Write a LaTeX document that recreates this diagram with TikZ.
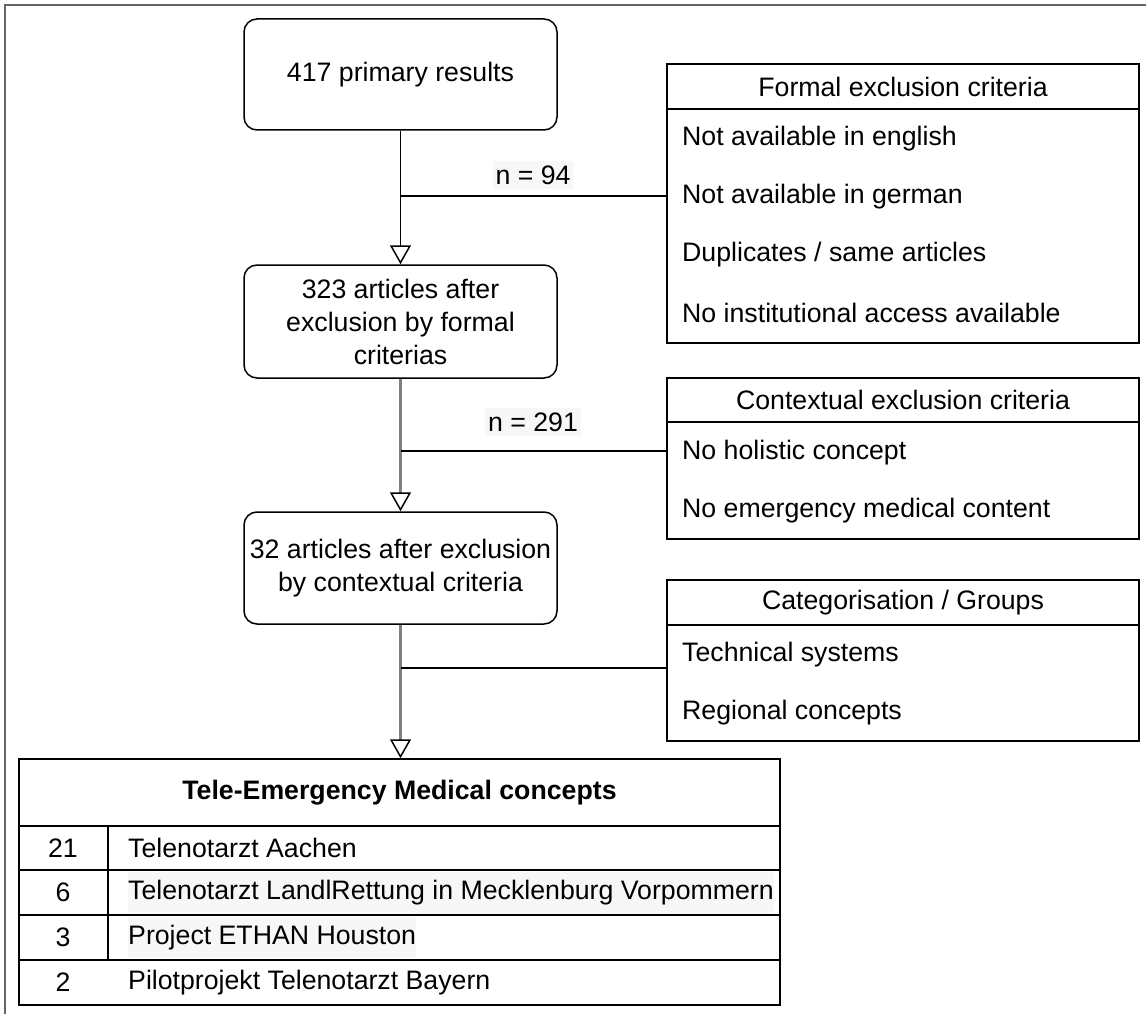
\documentclass[tikz,border=0pt]{standalone}
\usepackage{fontspec}
\setmainfont{Liberation Sans}
\usetikzlibrary{arrows.meta,positioning}

\newcommand{\diagsize}{\fontsize{26.7}{33}\selectfont}

\tikzset{
    stage/.style={draw, rounded corners=13pt, line width=1.5pt, minimum width=313pt,
        minimum height=112pt, align=center, inner sep=0pt},
    critbox/.style={draw, line width=1.5pt, minimum width=472pt, inner sep=0pt},
    crititem/.style={anchor=west, inner sep=0pt},
    countlabel/.style={fill=black!3, inner xsep=3pt, inner ysep=5pt},
    flow/.style={line width=1.5pt, -{Triangle[open, length=19pt, width=21pt, line width=1.5pt]}},
    flowgray/.style={draw=black!50, line width=2.5pt,
        -{Triangle[open, length=19pt, width=21pt, line width=1.5pt, color=black]}},
    branch/.style={line width=1.5pt},
    every node/.style={font=\diagsize}
}

\begin{document}
\begin{tikzpicture}[x=1pt, y=-1pt]
    \useasboundingbox (0,0) rectangle (1146,1014);
    \draw[black!60, line width=2pt] (5,1014) -- (5,5) -- (1146,5);

    % stages
    \node[stage, minimum height=111pt] (primary) at (400.5,74.5) {417 primary results};
    \node[stage, minimum height=113pt] (formalres) at (400.5,321.5) {323 articles after\\exclusion by formal\\criterias};
    \node[stage] (contextres) at (400.5,568) {32 articles after exclusion\\by contextual criteria};

    % formal criteria
    \node[critbox, minimum height=279pt] (formal) at (903,203.5) {};
    \draw[line width=1.5pt] (667,109) -- (1139,109);
    \node (formalhead) at (903,86.5) {Formal exclusion criteria};
    \node[crititem] (formal1) at (682,139) {Not available in english};
    \node[crititem] (formal2) at (682,197) {Not available in german};
    \node[crititem] (formal3) at (682,255) {Duplicates / same articles};
    \node[crititem] (formal4) at (682,313) {No institutional access available};

    % contextual criteria
    \node[critbox, minimum height=161pt] (context) at (903,458.5) {};
    \draw[line width=1.5pt] (667,422) -- (1139,422);
    \node (contexthead) at (903,400) {Contextual exclusion criteria};
    \node[crititem] (context1) at (682,453) {No holistic concept};
    \node[crititem] (context2) at (682,511) {No emergency medical content};

    % groups
    \node[critbox, minimum height=161pt] (groups) at (903,660.5) {};
    \draw[line width=1.5pt] (667,625) -- (1139,625);
    \node (groupshead) at (903,602.5) {Categorisation / Groups};
    \node[crititem] (groups1) at (682,655) {Technical systems};
    \node[crititem] (groups2) at (682,713) {Regional concepts};

    % result table
    \node[draw, line width=1.5pt, minimum width=761pt, minimum height=246pt, inner sep=0pt] (concepts) at (399.5,882) {};
    \draw[line width=1.5pt] (19,826) -- (780,826);
    \draw[line width=1.5pt] (19,870) -- (780,870);
    \draw[line width=1.5pt] (19,915) -- (780,915);
    \draw[line width=1.5pt] (19,960) -- (780,960);
    \draw[line width=1.5pt] (108,826) -- (108,960);
    \node[font=\diagsize\bfseries] (conceptshead) at (399.5,792.5) {Tele-Emergency Medical concepts};
    \node (count1) at (63,848) {21};
    \node[crititem] (concept1) at (128,848) {Telenotarzt Aachen};
    \node (count2) at (63,892.5) {6};
    \node[crititem, fill=black!3, inner ysep=8pt] (concept2) at (128,892.5) {Telenotarzt LandlRettung in Mecklenburg Vorpommern};
    \node (count3) at (63,937.5) {3};
    \node[crititem, fill=black!3, inner ysep=8pt] (concept3) at (128,937.5) {Project ETHAN Houston};
    \node (count4) at (63,982.5) {2};
    \node[crititem] (concept4) at (128,982.5) {Pilotprojekt Telenotarzt Bayern};

    % flow
    \draw[flow] (primary) -- (formalres);
    \draw[flowgray] (formalres) -- (contextres);
    \draw[flowgray] (contextres.south) -- (contextres.south |- concepts.north);

    \coordinate (split1) at (400.5,196);
    \coordinate (split2) at (400.5,451);
    \coordinate (split3) at (400.5,668);
    \draw[branch] (split1) -- (split1 -| formal.west);
    \draw[branch] (split2) -- (split2 -| context.west);
    \draw[branch] (split3) -- (split3 -| groups.west);

    \node[countlabel] (cut1) at (533,175) {n = 94};
    \node[countlabel] (cut2) at (533,422) {n = 291};
\end{tikzpicture}
\end{document}
